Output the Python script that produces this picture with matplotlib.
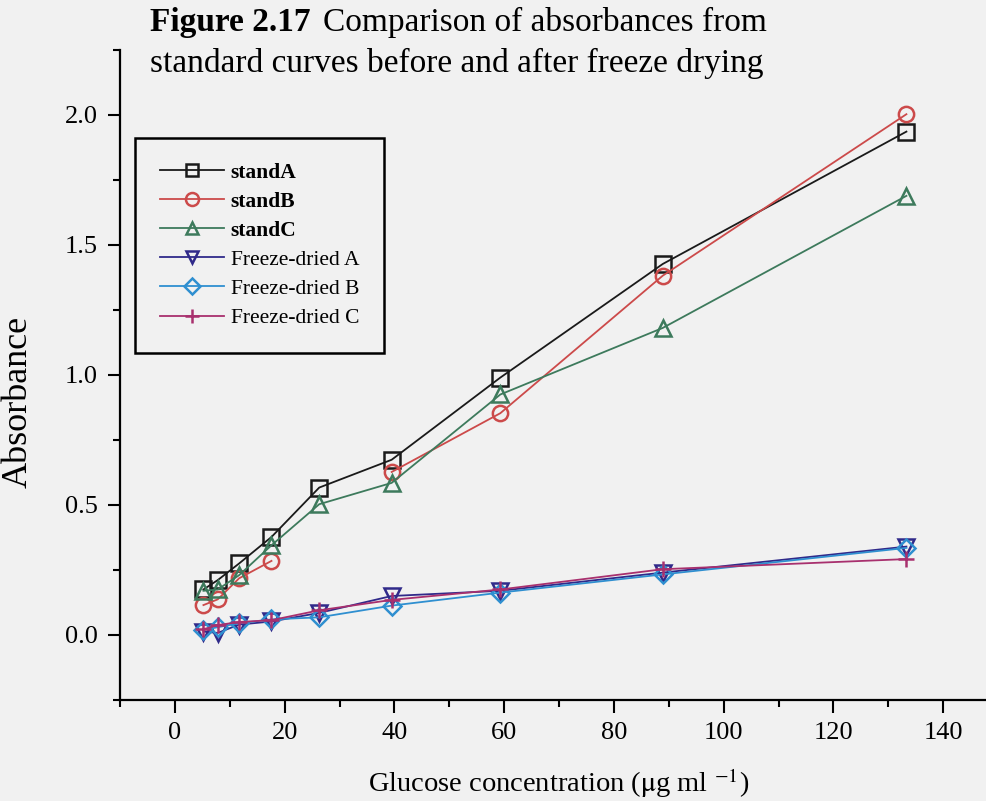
# Figure 2.17 - absorbance standard curves before / after freeze drying
import numpy as np
import matplotlib.pyplot as plt
from matplotlib.ticker import MultipleLocator

# data
glucose = [5.2, 7.8, 11.7, 17.6, 26.3, 39.5, 59.3, 88.9, 133.3]
stand_a = [0.175, 0.211, 0.275, 0.377, 0.567, 0.674, 0.990, 1.427, 1.936]
stand_b = [0.115, 0.137, 0.218, 0.285, np.nan, 0.627, 0.853, 1.382, 2.003]
stand_c = [0.170, 0.175, 0.230, 0.345, 0.503, 0.585, 0.925, 1.181, 1.689]
fd_a = [0.013, 0.008, 0.040, 0.052, 0.085, 0.150, 0.170, 0.240, 0.340]
fd_b = [0.019, 0.030, 0.045, 0.060, 0.068, 0.113, 0.163, 0.233, 0.335]
fd_c = [0.022, 0.038, 0.050, 0.057, 0.095, 0.135, 0.175, 0.253, 0.292]

labels = ['standA', 'standB', 'standC',
          'Freeze-dried A', 'Freeze-dried B', 'Freeze-dried C']

plt.rcParams['font.family'] = ['Liberation Serif', 'DejaVu Serif']
plt.rcParams['mathtext.fontset'] = 'stix'

bg = '#f1f1f1'
fig = plt.figure(figsize=(9.87, 8.01), dpi=100, facecolor=bg)
ax = fig.add_axes([0.1216, 0.1261, 0.8896, 0.8115], facecolor=bg)

styles = [
    (stand_a, 's', '#1a1a1a', 11),
    (stand_b, 'o', '#cc4a4a', 11),
    (stand_c, '^', '#3d7a5c', 11),
    (fd_a, 'v', '#302a8a', 11),
    (fd_b, 'D', '#2f8fd0', 9),
    (fd_c, '+', '#a8306e', 12),
]
for (vals, mk, col, ms), lab in zip(styles, labels):
    ax.plot(glucose, vals, color=col, lw=1.3, marker=mk, ms=ms,
            mfc='none', mec=col, mew=1.8, label=lab)

# axes
ax.set_xlim(-10, 150)
ax.set_ylim(-0.25, 2.25)
ax.xaxis.set_minor_locator(MultipleLocator(10))
ax.yaxis.set_minor_locator(MultipleLocator(0.25))
ax.set_xticks(np.arange(0, 141, 20))
ax.set_yticks(np.arange(0, 2.01, 0.5))
ax.set_yticklabels(['%.1f' % v for v in np.arange(0, 2.01, 0.5)])
ax.tick_params(which='major', direction='out', length=9, width=1.5,
               labelsize=19, pad=7)
ax.tick_params(which='minor', direction='out', length=5, width=1.5)
for side in ['top', 'right']:
    ax.spines[side].set_visible(False)
for side in ['left', 'bottom']:
    ax.spines[side].set_linewidth(1.6)

ax.set_xlabel(r'Glucose concentration ($\mathrm{\mu}$g ml $^{\mathrm{-1}}$)',
              fontsize=20.5, labelpad=16)
ax.set_ylabel('Absorbance', fontsize=26)
ax.yaxis.set_label_coords(-0.097, 0.458)

# legend
leg = ax.legend(loc='upper left', bbox_to_anchor=(0.017, 0.865),
                fontsize=15.5, handlelength=3.0, labelspacing=0.42,
                borderpad=1.15, handletextpad=0.3, borderaxespad=0,
                markerscale=0.85, fancybox=False,
                facecolor=bg, edgecolor='black', framealpha=1)
leg.get_frame().set_linewidth(1.8)
for txt in leg.get_texts()[:3]:
    txt.set_fontweight('bold')

# title, two lines, "Figure 2.17" in bold
t1 = fig.text(150 / 987, 1 - 22 / 801, 'Figure 2.17', fontsize=24,
              fontweight='bold', va='center', ha='left')
fig.canvas.draw()
bb = t1.get_window_extent()
fig.text((bb.x1 + 12) / 987, 1 - 22 / 801, 'Comparison of absorbances from',
         fontsize=24, va='center', ha='left')
fig.text(150 / 987, 1 - 63 / 801, 'standard curves before and after freeze drying',
         fontsize=24, va='center', ha='left')

plt.savefig('out.png', dpi=100, facecolor=bg)
